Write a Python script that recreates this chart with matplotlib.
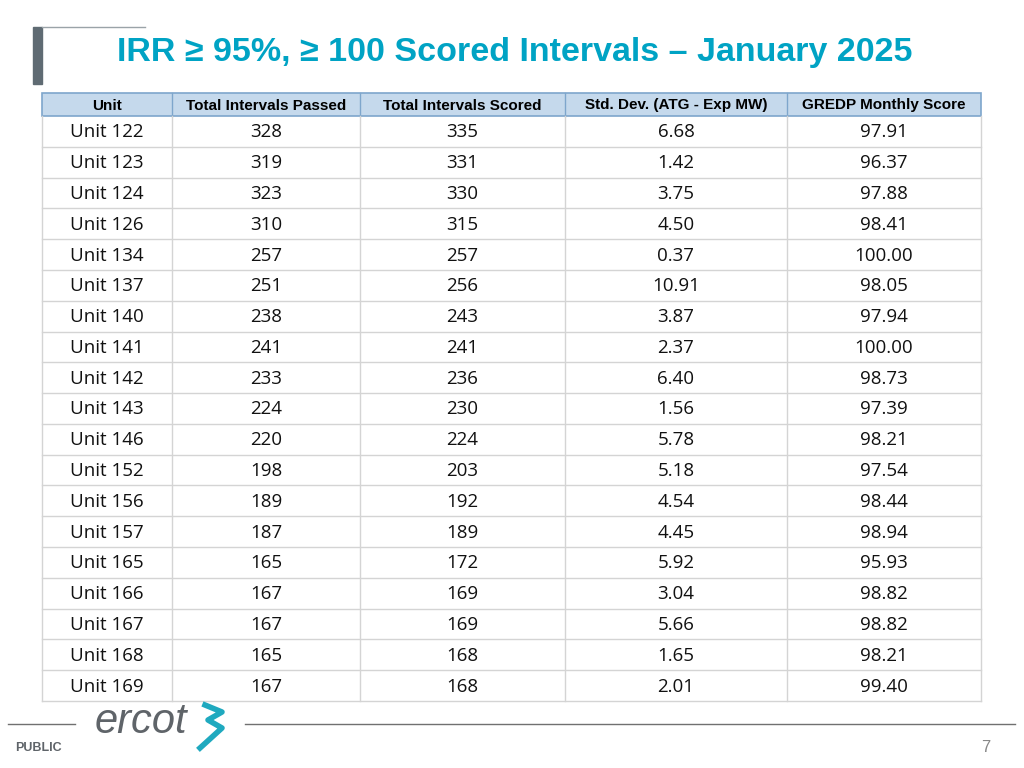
import matplotlib
matplotlib.use("Agg")
import matplotlib.pyplot as plt
from matplotlib.patches import Rectangle

title = "IRR \u2265 95%, \u2265 100 Scored Intervals \u2013 January 2025"
headers = ["Unit", "Total Intervals Passed", "Total Intervals Scored",
           "Std. Dev. (ATG - Exp MW)", "GREDP Monthly Score"]
units = ["Unit 122", "Unit 123", "Unit 124", "Unit 126", "Unit 134", "Unit 137",
         "Unit 140", "Unit 141", "Unit 142", "Unit 143", "Unit 146", "Unit 152",
         "Unit 156", "Unit 157", "Unit 165", "Unit 166", "Unit 167", "Unit 168", "Unit 169"]
passed = [328, 319, 323, 310, 257, 251, 238, 241, 233, 224, 220, 198, 189, 187, 165, 167, 167, 165, 167]
scored = [335, 331, 330, 315, 257, 256, 243, 241, 236, 230, 224, 203, 192, 189, 172, 169, 169, 168, 168]
stddev = ["6.68", "1.42", "3.75", "4.50", "0.37", "10.91", "3.87", "2.37", "6.40", "1.56",
          "5.78", "5.18", "4.54", "4.45", "5.92", "3.04", "5.66", "1.65", "2.01"]
score = ["97.91", "96.37", "97.88", "98.41", "100.00", "98.05", "97.94", "100.00", "98.73", "97.39",
         "98.21", "97.54", "98.44", "98.94", "95.93", "98.82", "98.82", "98.21", "99.40"]

fig = plt.figure(figsize=(10.24, 7.68), dpi=100)
ax = fig.add_axes([0, 0, 1, 1])
ax.set_xlim(0, 1024); ax.set_ylim(768, 0); ax.axis("off")

# title decoration
ax.add_patch(Rectangle((33, 27), 9, 57, color="#5f6b73"))
ax.plot([42, 145], [27, 27], color="#9aa3a8", lw=1)
ax.text(515, 53, title, color="#00a3c4", fontsize=24.5, fontweight="bold",
        family="Liberation Sans", ha="center", va="center")

cols = [42, 172, 360, 565, 787, 981]
hy0, hy1 = 93, 116
rh = (701 - hy1) / len(units)
grid = "#d4d4d4"

# header
ax.add_patch(Rectangle((cols[0], hy0), cols[-1] - cols[0], hy1 - hy0,
                       facecolor="#c5d9ec", edgecolor="#7ea6cc", lw=1.2))
for i, h in enumerate(headers):
    ax.text((cols[i] + cols[i + 1]) / 2, (hy0 + hy1) / 2 + 1, h, fontsize=11,
            fontweight="bold", family="Liberation Sans", ha="center", va="center")
    if i > 0:
        ax.plot([cols[i], cols[i]], [hy0, hy1], color="#7ea6cc", lw=1)

# body
for r in range(len(units)):
    y0 = hy1 + r * rh
    ax.plot([cols[0], cols[-1]], [y0 + rh, y0 + rh], color=grid, lw=1)
    vals = [units[r], str(passed[r]), str(scored[r]), stddev[r], score[r]]
    for i, v in enumerate(vals):
        ax.text((cols[i] + cols[i + 1]) / 2, y0 + rh / 2 + 1, v, fontsize=13.5,
                family="Open Sans", ha="center", va="center", color="#111111")
for c in cols:
    ax.plot([c, c], [hy1, 701], color=grid, lw=1)

# footer
ax.plot([8, 75], [724, 724], color="#707070", lw=1)
ax.plot([245, 1015], [724, 724], color="#707070", lw=1)
ax.text(95, 722, "ercot", fontsize=30, style="italic", color="#5f6469",
        family="Liberation Sans", ha="left", va="center")
ax.plot([205, 222, 208, 222, 200], [705, 712, 720, 728, 748], color="#1fa9bf", lw=4)
ax.text(15, 748, "PUBLIC", fontsize=9, fontweight="bold", color="#5f6469",
        family="Liberation Sans", ha="left", va="center")
ax.text(990, 748, "7", fontsize=12, color="#888888", family="Liberation Sans",
        ha="right", va="center")

fig.savefig("out.png", dpi=100)
